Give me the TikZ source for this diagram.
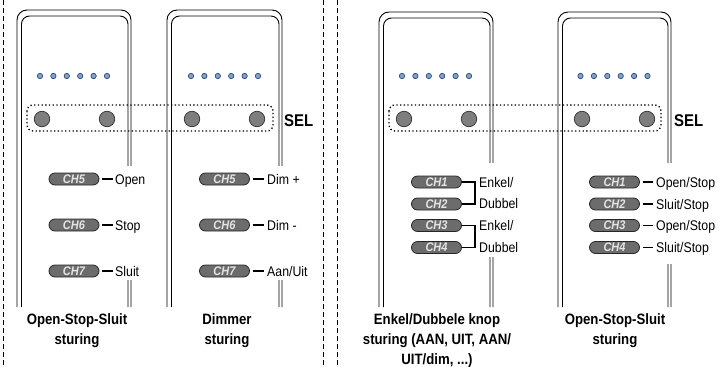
\documentclass[tikz,border=0pt]{standalone}
\usepackage{fontspec}
\setmainfont{Liberation Sans}
\newfontfamily\cond[FakeStretch=0.88]{Liberation Sans}
\definecolor{ledfill}{HTML}{78A2DA}
\definecolor{ledborder}{HTML}{2A3850}
\definecolor{btnfill}{HTML}{7E7E7E}
\definecolor{btnborder}{HTML}{333333}
\definecolor{chipfill}{HTML}{6C6C6C}
\definecolor{chipborder}{HTML}{262626}
\definecolor{chiptext}{HTML}{E4E4E4}
\tikzset{
  modline/.style={line width=0.9pt},
  sepline/.style={dash pattern=on 5pt off 3pt, line width=0.9pt},
  led/.style={circle, draw=ledborder, fill=ledfill, line width=0.6pt, minimum size=5.4pt, inner sep=0pt},
  btn/.style={circle, draw=btnborder, fill=btnfill, line width=0.7pt, minimum size=15.5pt, inner sep=0pt},
  selbox/.style={line width=1.3pt, dash pattern=on 1.3pt off 2.4pt, rounded corners=6pt},
  chip/.style={rectangle, rounded corners=6pt, draw=chipborder, fill=chipfill, line width=0.8pt,
    minimum width=50pt, minimum height=12pt, inner sep=0pt, text=chiptext,
    font=\cond\bfseries\itshape\fontsize{12.5}{12.5}\selectfont},
  lbl/.style={anchor=base west, inner sep=0pt, font=\cond\fontsize{14}{14}\selectfont},
  link/.style={line width=1.2pt},
  title/.style={align=center, inner sep=0pt, font=\cond\bfseries\fontsize{15}{20}\selectfont},
  seltext/.style={anchor=base west, inner sep=0pt, font=\cond\bfseries\fontsize{17}{17}\selectfont},
}
\begin{document}
\begin{tikzpicture}[x=1pt,y=-1pt]
\useasboundingbox (0,0) rectangle (726,367);
% separators
\draw[sepline] (3,0) -- (3,367);
\draw[sepline] (323,0) -- (323,367);
\draw[sepline] (337,0) -- (337,367);
% modules (outer and inner contour, open at the bottom)
\foreach \xl/\xr/\yt in {17/131/10, 167/282/10, 379/493/12, 558/671/12}{
  \draw[modline, rounded corners=10pt] (\xl,307) -- (\xl,\yt) -- (\xr,\yt) -- (\xr,307);
  \draw[modline, rounded corners=8pt] (\xl+4.5,307) -- (\xl+4.5,\yt+6) -- (\xr-3,\yt+6) -- (\xr-3,307);
}
% gaps of the right edges behind the labels
\fill[white] (125,166) rectangle (133,280);
\fill[white] (276,166) rectangle (284,280);
\fill[white] (487,163) rectangle (495,257);
\fill[white] (665,163) rectangle (673,264);
% LEDs
\foreach \m/\c in {1/73.5, 2/224.5, 3/435.5, 4/614}{
  \foreach \i/\o in {1/-33.5, 2/-20.1, 3/-6.7, 4/6.7, 5/20.1, 6/33.5}{
    \node[led] (led\m-\i) at (\c+\o,76) {};
  }
}
% SEL boxes and buttons
\draw[selbox] (27,105) rectangle (273,131);
\draw[selbox] (389,105) rectangle (661,131);
\node[btn] (b1a) at (42,119) {};
\node[btn] (b1b) at (107,119) {};
\node[btn] (b2a) at (192,119) {};
\node[btn] (b2b) at (257,119) {};
\node[btn] (b3a) at (404,119) {};
\node[btn] (b3b) at (469,119) {};
\node[btn] (b4a) at (582,119) {};
\node[btn] (b4b) at (647,119) {};
\node[seltext] (sel1) at (284,126) {SEL};
\node[seltext] (sel2) at (674,126) {SEL};
% module 1
\node[chip] (m1c5) at (74,179) {CH5};
\node[chip] (m1c6) at (74,225) {CH6};
\node[chip] (m1c7) at (74,271) {CH7};
\node[lbl] (m1t5) at (115,184) {Open};
\node[lbl] (m1t6) at (115,230) {Stop};
\node[lbl] (m1t7) at (115,276) {Sluit};
\foreach \k in {5,6,7}{
  \draw[link, shorten <=3pt, shorten >=2pt] (m1c\k.east) -- (m1c\k.east -| m1t\k.west);
}
% module 2
\node[chip] (m2c5) at (224.5,179) {CH5};
\node[chip] (m2c6) at (224.5,225) {CH6};
\node[chip] (m2c7) at (224.5,271) {CH7};
\node[lbl] (m2t5) at (267,184) {Dim +};
\node[lbl] (m2t6) at (267,230) {Dim -};
\node[lbl] (m2t7) at (267,276) {Aan/Uit};
\foreach \k in {5,6,7}{
  \draw[link, shorten <=3pt, shorten >=3pt] (m2c\k.east) -- (m2c\k.east -| m2t\k.west);
}
% module 3
\node[chip] (m3c1) at (436.5,182) {CH1};
\node[chip] (m3c2) at (436.5,204) {CH2};
\node[chip] (m3c3) at (436.5,225.5) {CH3};
\node[chip] (m3c4) at (436.5,247.5) {CH4};
\coordinate (m3b) at (475,0);
\draw[link] (m3c1.east) -- (m3c1.east -| m3b) -- (m3c2.east -| m3b) -- (m3c2.east);
\draw[link] (m3c3.east) -- (m3c3.east -| m3b) -- (m3c4.east -| m3b) -- (m3c4.east);
\node[lbl] (m3t1) at (479,187) {Enkel/};
\node[lbl] (m3t2) at (479,208) {Dubbel};
\node[lbl] (m3t3) at (479,230.5) {Enkel/};
\node[lbl] (m3t4) at (479,252.5) {Dubbel};
% module 4
\node[chip] (m4c1) at (614.5,182) {CH1};
\node[chip] (m4c2) at (614.5,204) {CH2};
\node[chip] (m4c3) at (614.5,225.5) {CH3};
\node[chip] (m4c4) at (614.5,247.5) {CH4};
\node[lbl] (m4t1) at (656,187) {Open/Stop};
\node[lbl] (m4t2) at (656,209) {Sluit/Stop};
\node[lbl] (m4t3) at (656,230.5) {Open/Stop};
\node[lbl] (m4t4) at (656,252.5) {Sluit/Stop};
\foreach \k in {1,2,3,4}{
  \draw[link, shorten <=3pt, shorten >=3pt] (m4c\k.east) -- (m4c\k.east -| m4t\k.west);
}
% titles
\node[title] (ti1) at (77,331) {Open-Stop-Sluit\\sturing};
\node[title] (ti2) at (227,331) {Dimmer\\sturing};
\node[title] (ti3) at (437,341) {Enkel/Dubbele knop\\sturing (AAN, UIT, AAN/\\UIT/dim, ...)};
\node[title] (ti4) at (615,331) {Open-Stop-Sluit\\sturing};
\end{tikzpicture}
\end{document}
